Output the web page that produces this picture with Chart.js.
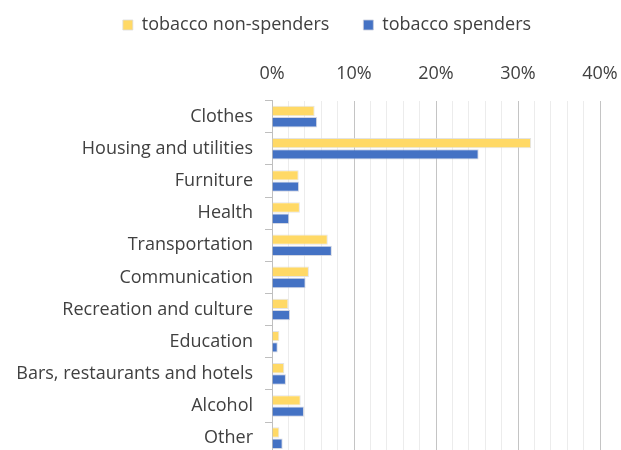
<!DOCTYPE html>
<html lang="en">
<head>
  <meta charset="UTF-8" />
  <title>Spending shares</title>
  <script src="https://cdn.jsdelivr.net/npm/chart.js"></script>
  <style>
    html, body { margin: 0; padding: 0; background: #fff; overflow: hidden; }
    #wrap { width: 621px; height: 477px; }
  </style>
</head>
<body>
  <div id="wrap"><canvas id="chart"></canvas></div>

  <script>
    const categories = ['Clothes', 'Housing and utilities', 'Furniture', 'Health', 'Transportation',
      'Communication', 'Recreation and culture', 'Education', 'Bars, restaurants and hotels', 'Alcohol', 'Other'];
    const nonSpenders = [5.2, 31.6, 3.25, 3.4, 6.8, 4.5, 2.0, 0.9, 1.5, 3.5, 0.9];
    const spenders = [5.5, 25.2, 3.3, 2.1, 7.3, 4.1, 2.2, 0.7, 1.7, 3.9, 1.3];

    const font = { family: '"Open Sans", "Liberation Sans", sans-serif', size: 18 };

    // move the legend a little, like the original
    const legendShift = {
      id: 'legendShift',
      afterLayout(chart) {
        const l = chart.legend;
        l.left += 22; l.right += 22;
        l.top -= 3; l.bottom -= 3;
      }
    };

    new Chart(document.getElementById('chart'), {
      type: 'bar',
      data: {
        labels: categories,
        datasets: [
          {
            label: 'tobacco non-spenders',
            data: nonSpenders,
            backgroundColor: '#FFD966',
            borderColor: 'rgba(220,220,220,0.8)',
            borderWidth: 1,
            categoryPercentage: 0.7,
            barPercentage: 0.92
          },
          {
            label: 'tobacco spenders',
            data: spenders,
            backgroundColor: '#4472C4',
            borderColor: 'rgba(200,205,220,0.8)',
            borderWidth: 1,
            categoryPercentage: 0.7,
            barPercentage: 0.92
          }
        ]
      },
      options: {
        indexAxis: 'y',
        responsive: true,
        maintainAspectRatio: false,
        animation: false,
        layout: { padding: { left: 10, right: 21, top: -15, bottom: 0 } },
        plugins: {
          legend: {
            position: 'top',
            labels: {
              color: '#404040',
              font: font,
              boxWidth: 10,
              boxHeight: 10,
              padding: 34
            }
          },
          tooltip: { enabled: false }
        },
        scales: {
          x: {
            position: 'top',
            min: 0,
            max: 40,
            afterFit: (s) => { s.paddingLeft = 0; s.paddingRight = 0; },
            ticks: {
              stepSize: 2,
              autoSkip: false,
              maxRotation: 0,
              color: '#404040',
              font: font,
              padding: 16,
              callback: (v) => (v % 10 === 0 ? v + '%' : '')
            },
            grid: {
              drawTicks: false,
              color: (c) => (c.tick && c.tick.value % 10 === 0 ? '#c4c4c4' : '#ececec'),
              lineWidth: 1
            },
            border: { display: false }
          },
          y: {
            afterFit: (s) => { s.width = 262; },
            ticks: { color: '#404040', font: font, padding: 12 },
            grid: { drawOnChartArea: false, drawTicks: true, tickLength: 7, color: '#bfbfbf' },
            border: { display: true, color: '#bfbfbf' }
          }
        }
      },
      plugins: [legendShift]
    });
  </script>
</body>
</html>
